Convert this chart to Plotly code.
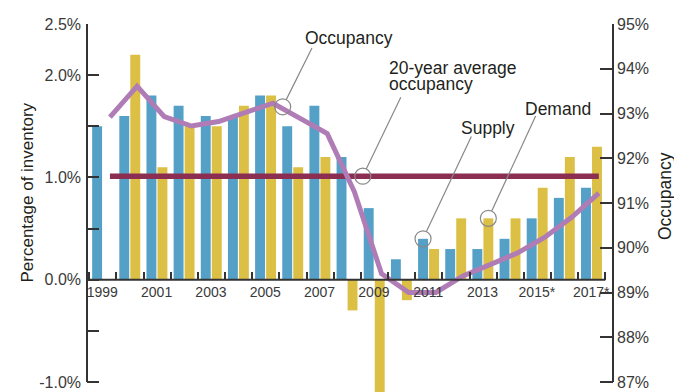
import math
import plotly.graph_objects as go

# ---------------- data ----------------
years = list(range(1999, 2018))
year_tick_labels = ["1999", "", "2001", "", "2003", "", "2005", "", "2007", "",
                    "2009", "", "2011", "", "2013", "", "2015*", "", "2017*", ""]
supply = [1.5, 1.6, 1.8, 1.7, 1.6, 1.6, 1.8, 1.5, 1.7, 1.2,
          0.7, 0.2, 0.4, 0.3, 0.3, 0.4, 0.6, 0.8, 0.9]
demand = [None, 2.2, 1.1, 1.5, 1.5, 1.7, 1.8, 1.1, 1.2, -0.3,
          -1.5, -0.2, 0.3, 0.6, 0.6, 0.6, 0.9, 1.2, 1.3]
occupancy = [92.92, 93.61, 92.93, 92.72, 92.82, 93.03, 93.23, 92.89, 92.55, 91.25,
             89.42, 89.0, 89.0, 89.37, 89.61, 89.88, 90.23, 90.68, 91.22]
avg_occupancy = 91.6
left_tick_vals = [-1.0, -0.5, 0.0, 0.5, 1.0, 1.5, 2.0, 2.5]
left_tick_text = ["-1.0%", "", "0.0%", "", "1.0%", "", "2.0%", "2.5%"]
right_tick_vals = [87, 88, 89, 90, 91, 92, 93, 94, 95]
right_tick_text = ["87%", "88%", "89%", "90%", "91%", "92%", "93%", "94%", "95%"]

# ---------------- style ----------------
BLUE = "#54a0c7"
YELLOW = "#dcbf45"
PURPLE = "#b07cb6"
MAROON = "#8c2d52"
AXIS = "#333333"
TEXT = "#231f20"
GRAY = "#888888"
FONT = "Liberation Sans, Arial, sans-serif"
NARROW = "Liberation Sans Narrow, Arial Narrow, Liberation Sans, Arial, sans-serif"

OFF = 8                      # page body margin offset
W, H = 682 - OFF, 392 - OFF
ML, MR, MT, MB = 87 - OFF, 69, 24 - OFF, 0
plot_w = W - ML - MR
plot_h = H - MT - MB
px_per_year = 27.16
x_lo = 1998.5 - 2.3 / px_per_year
x_hi = x_lo + plot_w / px_per_year
y_top, y_px = 2.5, 102.29
y_lo = y_top - plot_h / y_px
y2_top, y2_px = 95.0, 44.75
y2_lo = y2_top - plot_h / y2_px
line_off = 0.26
bar_w = 0.365
blue_off = -0.395
yel_off = 0.01

fig = go.Figure()
fig.add_trace(go.Bar(x=years, y=supply, name="Supply", marker_color=BLUE,
                     width=bar_w, offset=blue_off, marker_line_width=0))
fig.add_trace(go.Bar(x=years, y=demand, name="Demand", marker_color=YELLOW,
                     width=bar_w, offset=yel_off, marker_line_width=0))
fig.add_trace(go.Scatter(x=[years[0] + line_off, years[-1] + line_off],
                         y=[avg_occupancy, avg_occupancy], yaxis="y2", mode="lines",
                         line=dict(color=MAROON, width=5.5), name="20-year average occupancy"))
fig.add_trace(go.Scatter(x=[y + line_off for y in years], y=occupancy, yaxis="y2",
                         mode="lines", line=dict(color=PURPLE, width=5), name="Occupancy"))

x_pos = (0 - y_lo) / (y_top - y_lo)
fig.update_layout(
    template="none",
    width=W, height=H, margin=dict(l=ML, r=MR, t=MT, b=MB, pad=0, autoexpand=False),
    paper_bgcolor="white", plot_bgcolor="white", showlegend=False,
    barmode="overlay",
    font=dict(family=FONT, color=TEXT),
    xaxis=dict(range=[x_lo, x_hi], anchor="free", position=x_pos, automargin=False,
               tickmode="array", tickvals=[1998.5 + i for i in range(20)],
               ticktext=year_tick_labels, ticks="inside", ticklen=8, tickwidth=1.5,
               tickcolor=AXIS, ticklabelshift=13, ticklabelstandoff=2,
               tickfont=dict(family=NARROW, size=14, color="#3a3a3a"),
               showgrid=False, zeroline=False, showline=False),
    yaxis=dict(range=[y_lo, y_top], tickmode="array", tickvals=left_tick_vals,
               ticktext=left_tick_text, ticks="inside", ticklen=12, tickwidth=1.5,
               tickcolor=AXIS, tickfont=dict(size=16, color="#3a3a3a"), automargin=False,
               ticklabelstandoff=5,
               showgrid=False, zeroline=False, showline=False),
    yaxis2=dict(range=[y2_lo, y2_top], overlaying="y", side="right", anchor="x",
                tickmode="array", tickvals=right_tick_vals, ticktext=right_tick_text,
                ticks="inside", ticklen=13, tickwidth=1.5, tickcolor=AXIS,
                tickfont=dict(size=16, color="#3a3a3a"), automargin=False,
                ticklabelstandoff=3,
                showgrid=False, zeroline=False, showline=False),
)

# axis lines
fig.add_shape(type="line", xref="paper", yref="y", x0=0, x1=0, y0=-1.0, y1=2.5,
              line=dict(color=AXIS, width=2))
fig.add_shape(type="line", xref="paper", yref="y2", x0=1, x1=1, y0=87, y1=95,
              line=dict(color=AXIS, width=2))
fig.add_shape(type="line", xref="x", yref="y", x0=x_lo, x1=2017.5, y0=0, y1=0,
              line=dict(color=AXIS, width=2))

# callouts: circle + leader
R = 8
def callout(xa, ya, yref, dx, dy):
    fig.add_shape(type="circle", xref="x", yref=yref, xsizemode="pixel", ysizemode="pixel",
                  xanchor=xa, yanchor=ya, x0=-R, x1=R, y0=-R, y1=R,
                  line=dict(color=GRAY, width=1.2), fillcolor="rgba(0,0,0,0)")
    L = math.hypot(dx, dy)
    ux, uy = dx / L, dy / L
    fig.add_shape(type="line", xref="x", yref=yref, xsizemode="pixel", ysizemode="pixel",
                  xanchor=xa, yanchor=ya, x0=R * ux, y0=-R * uy, x1=dx, y1=-dy,
                  line=dict(color=GRAY, width=1.2))

callout(2005.62, 93.15, "y2", 29.3, -58.7)
callout(2008.57, avg_occupancy, "y2", 38, -79)
callout(2011 + blue_off + bar_w / 2, supply[years.index(2011)], "y", 48.3, -102.3)
callout(2013 + yel_off + bar_w / 2, demand[years.index(2013)], "y", 47.3, -102.3)

# page-pixel helpers (page = reference picture coordinates)
def px2x(px):
    return 1998.5 + (px - 89.3) / px_per_year

def py2y(py):
    return y_top - (py - 24) / y_px

def label(text, px, py):
    fig.add_annotation(text=text, x=px2x(px), y=py2y(py), xref="x", yref="y",
                       xanchor="left", yanchor="middle", showarrow=False,
                       font=dict(size=17.5, color=TEXT, family=FONT))

label("Occupancy", 303, 38)
label("20-year average", 387, 67.7)
label("occupancy", 387, 83.5)
label("Supply", 459, 128)
label("Demand", 523, 109.3)

def paper_x(px):
    return (px - OFF - ML) / plot_w

def paper_y(py):
    return 1 - (py - OFF - MT) / plot_h

fig.add_annotation(text="Percentage of inventory", xref="paper", yref="paper",
                   x=paper_x(27), y=paper_y(192.5),
                   textangle=-90, showarrow=False, xanchor="center", yanchor="middle",
                   font=dict(size=17, color=TEXT, family=FONT))
fig.add_annotation(text="Occupancy", xref="paper", yref="paper",
                   x=paper_x(665), y=paper_y(196),
                   textangle=-90, showarrow=False, xanchor="center", yanchor="middle",
                   font=dict(size=17.5, color=TEXT, family=FONT))

fig.write_html("out.html")
